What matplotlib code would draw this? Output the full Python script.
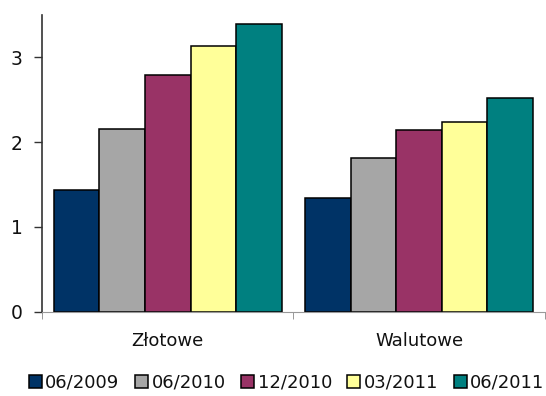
import numpy as np
import matplotlib
matplotlib.use("Agg")
import matplotlib.pyplot as plt

# Data
categories = ["Złotowe", "Walutowe"]
series = ["06/2009", "06/2010", "12/2010", "03/2011", "06/2011"]
v_0609 = [1.43, 1.34]
v_0610 = [2.15, 1.81]
v_1210 = [2.79, 2.14]
v_0311 = [3.14, 2.24]
v_0611 = [3.40, 2.52]
values = [v_0609, v_0610, v_1210, v_0311, v_0611]
colors = ["#003366", "#A6A6A6", "#993366", "#FFFF99", "#008080"]

fig = plt.figure(figsize=(5.46, 3.96), dpi=100)
ax = fig.add_axes([0.077, 0.213, 0.921, 0.749])

x = np.arange(len(categories))
w = 0.181
for i, (name, vals, c) in enumerate(zip(series, values, colors)):
    ax.bar(x + (i - 2) * w, vals, w, color=c, edgecolor="black", linewidth=1.1, label=name)

ax.set_xlim(-0.5, 1.5)
ax.set_ylim(0, 3.5)
ax.set_yticks([0, 1, 2, 3])
ax.set_xticks(x)
ax.set_xticklabels(categories, fontsize=13, color="#111111")
ax.set_xticks([-0.5, 0.5, 1.5], minor=True)
ax.tick_params(axis="x", which="major", length=0, pad=15)
ax.tick_params(axis="x", which="minor", length=5, color="#888888", direction="out")
ax.tick_params(axis="y", length=6, width=1, color="#333333", labelsize=13.5,
               labelcolor="#111111", pad=8)

for s in ["top", "right"]:
    ax.spines[s].set_visible(False)
ax.spines["left"].set_color("#333333")
ax.spines["left"].set_linewidth(1.2)
ax.spines["bottom"].set_color("#999999")

fig.legend(loc="center", bbox_to_anchor=(0.525, 0.033), ncol=5, frameon=False,
           fontsize=13, handlelength=0.72, handleheight=0.72, handletextpad=0.2,
           columnspacing=0.85, borderpad=0, labelcolor="#111111")

fig.savefig("out.png", dpi=100)
